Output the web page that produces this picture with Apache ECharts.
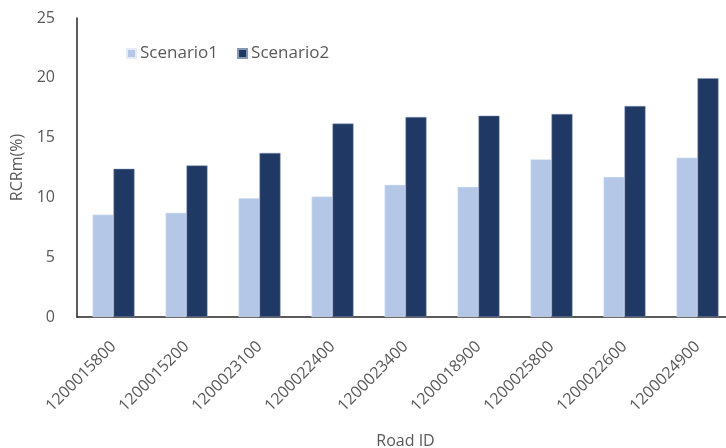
<!DOCTYPE html>
<html><head><meta charset="utf-8">
<script src="https://cdn.jsdelivr.net/npm/echarts@6/dist/echarts.min.js"></script>
<style>html,body{margin:0;padding:0;background:#fff}#c{width:726px;height:448px}</style>
</head><body><div id="c"></div>
<script>
var categories = ['1200015800','1200015200','1200023100','1200022400','1200023400','1200018900','1200025800','1200022600','1200024900'];
var scenario1 = [8.56, 8.72, 9.94, 10.08, 11.06, 10.89, 13.19, 11.72, 13.33];
var scenario2 = [12.39, 12.67, 13.72, 16.17, 16.72, 16.83, 16.97, 17.64, 19.97];
var yTicks = [0, 5, 10, 15, 20, 25];

var font = 'Open Sans';
var txt = '#595959';
var chart = echarts.init(document.getElementById('c'), null, {renderer: 'canvas'});
chart.setOption({
  animation: false,
  textStyle: {fontFamily: font},
  legend: {
    left: 121, top: 40,
    itemWidth: 9, itemHeight: 9, itemGap: 19,
    icon: 'rect',
    textStyle: {fontFamily: font, fontSize: 17, color: txt, padding: [0, 0, 0, -1]},
    data: ['Scenario1', 'Scenario2']
  },
  grid: {left: 77, right: -8, top: 18, bottom: 131, containLabel: false, outerBoundsMode: 'none'},
  xAxis: {
    type: 'category',
    data: categories,
    name: 'Road ID',
    nameLocation: 'middle',
    nameGap: 116,
    nameTextStyle: {fontFamily: font, fontSize: 16, color: txt},
    axisLine: {lineStyle: {color: '#262626', width: 1.5}},
    axisTick: {show: false},
    axisLabel: {rotate: 45, fontFamily: font, fontSize: 16, color: txt, margin: 27, interval: 0}
  },
  yAxis: {
    type: 'value',
    min: yTicks[0], max: yTicks[yTicks.length - 1], interval: 5,
    name: 'RCRm(%)',
    nameLocation: 'middle',
    nameGap: 44,
    nameTextStyle: {fontFamily: font, fontSize: 16, color: txt},
    axisLine: {show: true, lineStyle: {color: '#262626', width: 1.5}},
    axisTick: {show: false},
    splitLine: {show: false},
    axisLabel: {fontFamily: font, fontSize: 16, color: txt, margin: 22}
  },
  series: [
    {name: 'Scenario1', type: 'bar', data: scenario1, barWidth: 21, barGap: '0%',
     itemStyle: {color: '#B4C7E7', borderColor: '#E4ECF7', borderWidth: 0.5}},
    {name: 'Scenario2', type: 'bar', data: scenario2, barWidth: 21, barGap: '0%',
     itemStyle: {color: '#203864', borderColor: '#8696B4', borderWidth: 0.5}}
  ]
});
</script></body></html>
